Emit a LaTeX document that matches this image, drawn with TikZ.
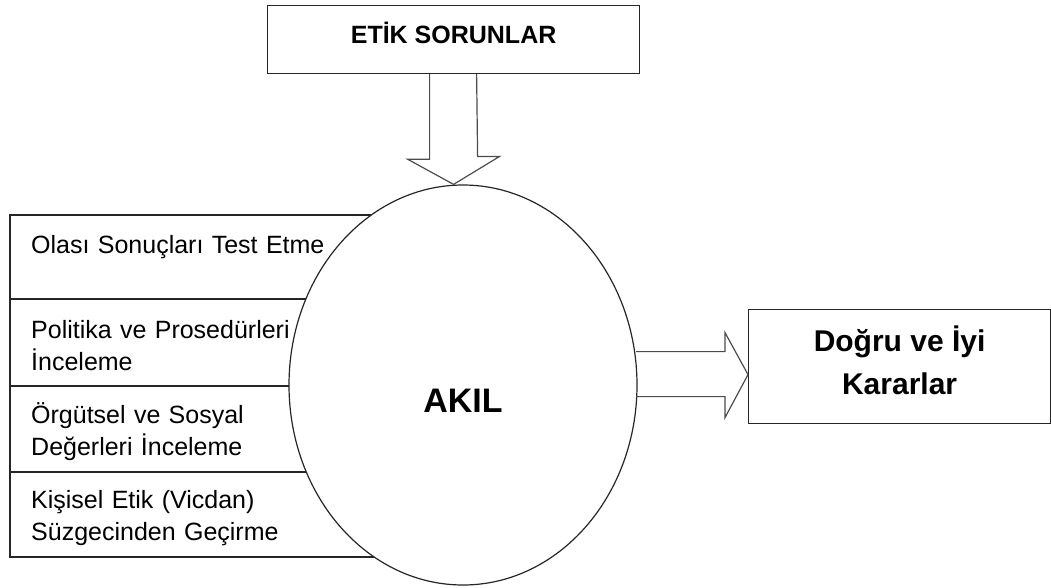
\documentclass[tikz,border=0pt]{standalone}
\usepackage{fontspec}
\setmainfont{Liberation Sans}
\usepackage{tikz}
\usetikzlibrary{shapes.geometric, calc, positioning}

\begin{document}
\begin{tikzpicture}[x=1pt, y=-1pt,
    kutu/.style={draw=black!85, line width=1.2pt, fill=white, inner sep=0pt},
    satir/.style={anchor=base west, inner sep=0pt, text width=330pt, align=left, font=\fontsize{25}{32}\selectfont},
    blok/.style={draw=black!70, line width=1.2pt}]

    \useasboundingbox (0,0) rectangle (1051,587);

    % sol taraftaki basamaklar
    \draw[black!85, line width=1.2pt] (470,215) -- (10,215) -- (10,557) -- (470,557);
    \draw[black!85, line width=1.2pt] (10,299) -- (470,299); \draw[black!85, line width=1.2pt] (10,386) -- (470,386); \draw[black!85, line width=1.2pt] (10,472) -- (470,472);

    \node[satir] (test) at (31,253) {Olası Sonuçları Test Etme};
    \node[satir] (politika) at (31,338) {Politika ve Prosedürleri\\İnceleme};
    \node[satir] (deger) at (31,423) {Örgütsel ve Sosyal\\Değerleri İnceleme};
    \node[satir] (vicdan) at (31,508) {Kişisel Etik (Vicdan)\\Süzgecinden Geçirme};

    % akil
    \node[kutu, ellipse, minimum width=348pt, minimum height=400pt, text height=54pt, font=\bfseries\fontsize{34}{40}\selectfont] (akil) at (463,385) {AKIL};

    % kutular
    \node[kutu, anchor=north west, minimum width=372pt, minimum height=68pt, text depth=14pt, font=\bfseries\fontsize{25}{30}\selectfont] (sorun) at (267,5) {ETİK SORUNLAR};
    \node[kutu, anchor=north west, minimum width=302pt, minimum height=114pt, align=center, text depth=12pt, font=\bfseries\fontsize{30}{43}\selectfont] (karar) at (748,309) {Doğru ve İyi\\Kararlar};

    % oklar
    \coordinate (ucust) at (sorun.south |- akil.north);
    \draw[blok] ($(sorun.south)+(-24,0)$) -- ++(0,85) -- ++(-22,0) -- (ucust) -- ++(46,-28) -- ++(-22,0) -- ($(sorun.south)+(23,0)$);

    \coordinate (ucsag) at ($(karar.west)+(0,8)$);
    \draw[blok] ($(ucsag)+(-112,-23)$) -- ++(89,0) -- ++(0,-19) -- (ucsag) -- ++(-23,43) -- ++(0,-21) -- ++(-89,0);
\end{tikzpicture}
\end{document}
